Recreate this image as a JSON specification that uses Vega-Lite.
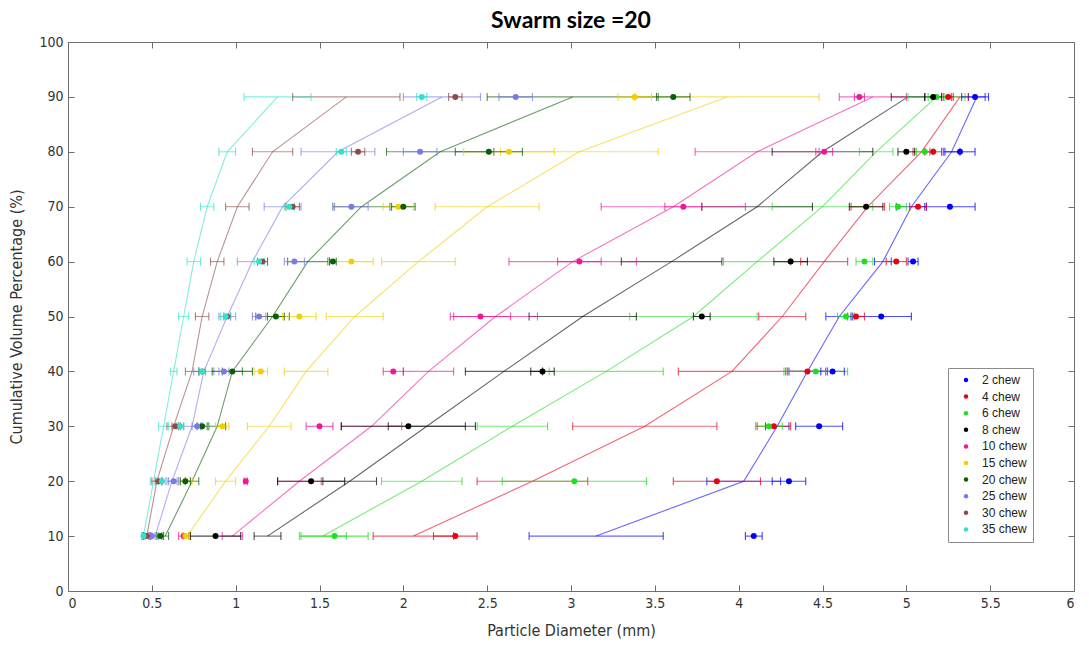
{
  "$schema": "https://vega.github.io/schema/vega-lite/v6.json",
  "autosize": {"type": "none"},
  "width": 1006,
  "height": 549,
  "padding": {"left": 68, "top": 42, "right": 15, "bottom": 56},
  "background": "white",
  "title": {
    "text": "Swarm size =20",
    "font": "Lato",
    "fontSize": 23,
    "fontWeight": "bold",
    "color": "#000000",
    "anchor": "middle",
    "offset": 2
  },
  "config": {
    "view": {"stroke": null},
    "axis": {
      "domainColor": "#6e6e6e",
      "tickColor": "#6e6e6e",
      "grid": false,
      "labelFont": "DejaVu Sans Condensed",
      "labelFontSize": 14,
      "labelColor": "#333333",
      "titleFont": "DejaVu Sans Condensed",
      "titleFontSize": 16,
      "titleFontWeight": "normal",
      "titleColor": "#333333",
      "tickSize": -6,
      "labelPadding": 11
    },
    "legend": {
      "orient": "none",
      "legendX": 880,
      "legendY": 326,
      "strokeColor": "#8c8c8c",
      "fillColor": "white",
      "padding": 6,
      "symbolType": "circle",
      "symbolSize": 20,
      "symbolStrokeWidth": 0,
      "symbolOpacity": 1,
      "labelFont": "Liberation Sans",
      "labelFontSize": 12,
      "labelColor": "#222222",
      "rowPadding": 4.6,
      "symbolOffset": 6,
      "labelOffset": 10
    }
  },
  "data": {
    "values": [
      {"s": "2 chew", "y": 10, "x": 3.15, "xlo": 2.75, "xhi": 3.55, "d": 4.09, "dlo": 4.04, "dhi": 4.14},
      {"s": "2 chew", "y": 20, "x": 4.03, "xlo": 3.81, "xhi": 4.25, "d": 4.30, "dlo": 4.20, "dhi": 4.40},
      {"s": "2 chew", "y": 30, "x": 4.23, "xlo": 4.16, "xhi": 4.30, "d": 4.48, "dlo": 4.34, "dhi": 4.62},
      {"s": "2 chew", "y": 40, "x": 4.41, "xlo": 4.30, "xhi": 4.52, "d": 4.56, "dlo": 4.49, "dhi": 4.63},
      {"s": "2 chew", "y": 50, "x": 4.60, "xlo": 4.52, "xhi": 4.68, "d": 4.85, "dlo": 4.67, "dhi": 5.03},
      {"s": "2 chew", "y": 60, "x": 4.86, "xlo": 4.81, "xhi": 4.91, "d": 5.04, "dlo": 5.01, "dhi": 5.07},
      {"s": "2 chew", "y": 70, "x": 5.03, "xlo": 4.94, "xhi": 5.12, "d": 5.26, "dlo": 5.11, "dhi": 5.41},
      {"s": "2 chew", "y": 80, "x": 5.27, "xlo": 5.22, "xhi": 5.32, "d": 5.32, "dlo": 5.23, "dhi": 5.41},
      {"s": "2 chew", "y": 90, "x": 5.42, "xlo": 5.37, "xhi": 5.47, "d": 5.41, "dlo": 5.33, "dhi": 5.49},

      {"s": "4 chew", "y": 10, "x": 2.06, "xlo": 1.82, "xhi": 2.30, "d": 2.31, "dlo": 2.18, "dhi": 2.44},
      {"s": "4 chew", "y": 20, "x": 2.77, "xlo": 2.44, "xhi": 3.10, "d": 3.87, "dlo": 3.61, "dhi": 4.13},
      {"s": "4 chew", "y": 30, "x": 3.44, "xlo": 3.01, "xhi": 3.87, "d": 4.21, "dlo": 4.11, "dhi": 4.31},
      {"s": "4 chew", "y": 40, "x": 3.96, "xlo": 3.64, "xhi": 4.28, "d": 4.41, "dlo": 4.29, "dhi": 4.53},
      {"s": "4 chew", "y": 50, "x": 4.26, "xlo": 4.12, "xhi": 4.40, "d": 4.70, "dlo": 4.65, "dhi": 4.75},
      {"s": "4 chew", "y": 60, "x": 4.51, "xlo": 4.37, "xhi": 4.65, "d": 4.94, "dlo": 4.88, "dhi": 5.00},
      {"s": "4 chew", "y": 70, "x": 4.77, "xlo": 4.67, "xhi": 4.87, "d": 5.07, "dlo": 5.02, "dhi": 5.12},
      {"s": "4 chew", "y": 80, "x": 5.09, "xlo": 5.04, "xhi": 5.14, "d": 5.16, "dlo": 5.11, "dhi": 5.21},
      {"s": "4 chew", "y": 90, "x": 5.32, "xlo": 5.27, "xhi": 5.37, "d": 5.25, "dlo": 5.22, "dhi": 5.28},

      {"s": "6 chew", "y": 10, "x": 1.52, "xlo": 1.38, "xhi": 1.66, "d": 1.59, "dlo": 1.39, "dhi": 1.79},
      {"s": "6 chew", "y": 20, "x": 2.11, "xlo": 1.87, "xhi": 2.35, "d": 3.02, "dlo": 2.59, "dhi": 3.45},
      {"s": "6 chew", "y": 30, "x": 2.65, "xlo": 2.44, "xhi": 2.86, "d": 4.18, "dlo": 4.10, "dhi": 4.26},
      {"s": "6 chew", "y": 40, "x": 3.21, "xlo": 2.87, "xhi": 3.55, "d": 4.46, "dlo": 4.27, "dhi": 4.65},
      {"s": "6 chew", "y": 50, "x": 3.73, "xlo": 3.35, "xhi": 4.11, "d": 4.64, "dlo": 4.59, "dhi": 4.69},
      {"s": "6 chew", "y": 60, "x": 4.11, "xlo": 3.91, "xhi": 4.31, "d": 4.75, "dlo": 4.70, "dhi": 4.80},
      {"s": "6 chew", "y": 70, "x": 4.50, "xlo": 4.20, "xhi": 4.80, "d": 4.95, "dlo": 4.90, "dhi": 5.00},
      {"s": "6 chew", "y": 80, "x": 4.82, "xlo": 4.72, "xhi": 4.92, "d": 5.11, "dlo": 5.06, "dhi": 5.16},
      {"s": "6 chew", "y": 90, "x": 5.18, "xlo": 5.01, "xhi": 5.35, "d": 5.18, "dlo": 5.13, "dhi": 5.23},

      {"s": "8 chew", "y": 10, "x": 1.19, "xlo": 1.11, "xhi": 1.27, "d": 0.88, "dlo": 0.73, "dhi": 1.03},
      {"s": "8 chew", "y": 20, "x": 1.68, "xlo": 1.52, "xhi": 1.84, "d": 1.45, "dlo": 1.25, "dhi": 1.65},
      {"s": "8 chew", "y": 30, "x": 2.14, "xlo": 1.91, "xhi": 2.37, "d": 2.03, "dlo": 1.63, "dhi": 2.43},
      {"s": "8 chew", "y": 40, "x": 2.60, "xlo": 2.37, "xhi": 2.83, "d": 2.83, "dlo": 2.76, "dhi": 2.90},
      {"s": "8 chew", "y": 50, "x": 3.07, "xlo": 2.75, "xhi": 3.39, "d": 3.78, "dlo": 3.73, "dhi": 3.83},
      {"s": "8 chew", "y": 60, "x": 3.60, "xlo": 3.30, "xhi": 3.90, "d": 4.31, "dlo": 4.21, "dhi": 4.41},
      {"s": "8 chew", "y": 70, "x": 4.11, "xlo": 3.78, "xhi": 4.44, "d": 4.76, "dlo": 4.66, "dhi": 4.86},
      {"s": "8 chew", "y": 80, "x": 4.50, "xlo": 4.20, "xhi": 4.80, "d": 5.00, "dlo": 4.95, "dhi": 5.05},
      {"s": "8 chew", "y": 90, "x": 5.01, "xlo": 4.91, "xhi": 5.11, "d": 5.16, "dlo": 5.11, "dhi": 5.21},

      {"s": "10 chew", "y": 10, "x": 0.98, "xlo": 0.92, "xhi": 1.04, "d": 0.69, "dlo": 0.66, "dhi": 0.72},
      {"s": "10 chew", "y": 20, "x": 1.38, "xlo": 1.25, "xhi": 1.51, "d": 1.06, "dlo": 1.05, "dhi": 1.07},
      {"s": "10 chew", "y": 30, "x": 1.81, "xlo": 1.63, "xhi": 1.99, "d": 1.50, "dlo": 1.42, "dhi": 1.58},
      {"s": "10 chew", "y": 40, "x": 2.15, "xlo": 2.00, "xhi": 2.30, "d": 1.94, "dlo": 1.88, "dhi": 2.00},
      {"s": "10 chew", "y": 50, "x": 2.55, "xlo": 2.30, "xhi": 2.80, "d": 2.46, "dlo": 2.28, "dhi": 2.64},
      {"s": "10 chew", "y": 60, "x": 3.01, "xlo": 2.63, "xhi": 3.39, "d": 3.05, "dlo": 2.92, "dhi": 3.18},
      {"s": "10 chew", "y": 70, "x": 3.61, "xlo": 3.18, "xhi": 4.04, "d": 3.67, "dlo": 3.56, "dhi": 3.78},
      {"s": "10 chew", "y": 80, "x": 4.11, "xlo": 3.74, "xhi": 4.48, "d": 4.51, "dlo": 4.46, "dhi": 4.56},
      {"s": "10 chew", "y": 90, "x": 4.80, "xlo": 4.60, "xhi": 5.00, "d": 4.72, "dlo": 4.69, "dhi": 4.75},

      {"s": "15 chew", "y": 10, "x": 0.71, "xlo": 0.69, "xhi": 0.73, "d": 0.70, "dlo": 0.68, "dhi": 0.72},
      {"s": "15 chew", "y": 20, "x": 0.94, "xlo": 0.88, "xhi": 1.00, "d": 0.70, "dlo": 0.66, "dhi": 0.74},
      {"s": "15 chew", "y": 30, "x": 1.20, "xlo": 1.07, "xhi": 1.33, "d": 0.92, "dlo": 0.88, "dhi": 0.96},
      {"s": "15 chew", "y": 40, "x": 1.42, "xlo": 1.29, "xhi": 1.55, "d": 1.15, "dlo": 1.11, "dhi": 1.19},
      {"s": "15 chew", "y": 50, "x": 1.71, "xlo": 1.54, "xhi": 1.88, "d": 1.38, "dlo": 1.28, "dhi": 1.48},
      {"s": "15 chew", "y": 60, "x": 2.09, "xlo": 1.87, "xhi": 2.31, "d": 1.69, "dlo": 1.56, "dhi": 1.82},
      {"s": "15 chew", "y": 70, "x": 2.50, "xlo": 2.19, "xhi": 2.81, "d": 1.97, "dlo": 1.88, "dhi": 2.06},
      {"s": "15 chew", "y": 80, "x": 3.05, "xlo": 2.58, "xhi": 3.52, "d": 2.63, "dlo": 2.36, "dhi": 2.90},
      {"s": "15 chew", "y": 90, "x": 3.93, "xlo": 3.38, "xhi": 4.48, "d": 3.38, "dlo": 3.28, "dhi": 3.48},

      {"s": "20 chew", "y": 10, "x": 0.58, "xlo": 0.56, "xhi": 0.60, "d": 0.55, "dlo": 0.53, "dhi": 0.57},
      {"s": "20 chew", "y": 20, "x": 0.74, "xlo": 0.70, "xhi": 0.78, "d": 0.70, "dlo": 0.67, "dhi": 0.73},
      {"s": "20 chew", "y": 30, "x": 0.89, "xlo": 0.84, "xhi": 0.94, "d": 0.80, "dlo": 0.77, "dhi": 0.83},
      {"s": "20 chew", "y": 40, "x": 0.98, "xlo": 0.92, "xhi": 1.04, "d": 0.98, "dlo": 0.86, "dhi": 1.10},
      {"s": "20 chew", "y": 50, "x": 1.22, "xlo": 1.12, "xhi": 1.32, "d": 1.24, "dlo": 1.19, "dhi": 1.29},
      {"s": "20 chew", "y": 60, "x": 1.43, "xlo": 1.31, "xhi": 1.55, "d": 1.58, "dlo": 1.56, "dhi": 1.60},
      {"s": "20 chew", "y": 70, "x": 1.75, "xlo": 1.58, "xhi": 1.92, "d": 2.00, "dlo": 1.93, "dhi": 2.07},
      {"s": "20 chew", "y": 80, "x": 2.22, "xlo": 1.90, "xhi": 2.54, "d": 2.51, "dlo": 2.31, "dhi": 2.71},
      {"s": "20 chew", "y": 90, "x": 3.01, "xlo": 2.50, "xhi": 3.52, "d": 3.61, "dlo": 3.51, "dhi": 3.71},

      {"s": "25 chew", "y": 10, "x": 0.52, "xlo": 0.50, "xhi": 0.54, "d": 0.50, "dlo": 0.48, "dhi": 0.52},
      {"s": "25 chew", "y": 20, "x": 0.62, "xlo": 0.59, "xhi": 0.65, "d": 0.63, "dlo": 0.60, "dhi": 0.66},
      {"s": "25 chew", "y": 30, "x": 0.74, "xlo": 0.69, "xhi": 0.79, "d": 0.77, "dlo": 0.74, "dhi": 0.80},
      {"s": "25 chew", "y": 40, "x": 0.81, "xlo": 0.75, "xhi": 0.87, "d": 0.93, "dlo": 0.90, "dhi": 0.96},
      {"s": "25 chew", "y": 50, "x": 0.95, "xlo": 0.90, "xhi": 1.00, "d": 1.14, "dlo": 1.10, "dhi": 1.18},
      {"s": "25 chew", "y": 60, "x": 1.10, "xlo": 1.01, "xhi": 1.19, "d": 1.35, "dlo": 1.29, "dhi": 1.41},
      {"s": "25 chew", "y": 70, "x": 1.28, "xlo": 1.17, "xhi": 1.39, "d": 1.69, "dlo": 1.59, "dhi": 1.79},
      {"s": "25 chew", "y": 80, "x": 1.61, "xlo": 1.39, "xhi": 1.83, "d": 2.10, "dlo": 2.00, "dhi": 2.20},
      {"s": "25 chew", "y": 90, "x": 2.23, "xlo": 2.00, "xhi": 2.46, "d": 2.67, "dlo": 2.57, "dhi": 2.77},

      {"s": "30 chew", "y": 10, "x": 0.47, "xlo": 0.45, "xhi": 0.49, "d": 0.47, "dlo": 0.45, "dhi": 0.49},
      {"s": "30 chew", "y": 20, "x": 0.53, "xlo": 0.50, "xhi": 0.56, "d": 0.54, "dlo": 0.52, "dhi": 0.56},
      {"s": "30 chew", "y": 30, "x": 0.63, "xlo": 0.59, "xhi": 0.67, "d": 0.64, "dlo": 0.62, "dhi": 0.66},
      {"s": "30 chew", "y": 40, "x": 0.74, "xlo": 0.70, "xhi": 0.78, "d": 0.80, "dlo": 0.78, "dhi": 0.82},
      {"s": "30 chew", "y": 50, "x": 0.80, "xlo": 0.76, "xhi": 0.84, "d": 0.95, "dlo": 0.93, "dhi": 0.97},
      {"s": "30 chew", "y": 60, "x": 0.89, "xlo": 0.85, "xhi": 0.93, "d": 1.16, "dlo": 1.13, "dhi": 1.19},
      {"s": "30 chew", "y": 70, "x": 1.01, "xlo": 0.94, "xhi": 1.08, "d": 1.34, "dlo": 1.30, "dhi": 1.38},
      {"s": "30 chew", "y": 80, "x": 1.22, "xlo": 1.10, "xhi": 1.34, "d": 1.73, "dlo": 1.69, "dhi": 1.77},
      {"s": "30 chew", "y": 90, "x": 1.66, "xlo": 1.34, "xhi": 1.98, "d": 2.31, "dlo": 2.27, "dhi": 2.35},

      {"s": "35 chew", "y": 10, "x": 0.45, "xlo": 0.44, "xhi": 0.46, "d": 0.45, "dlo": 0.44, "dhi": 0.46},
      {"s": "35 chew", "y": 20, "x": 0.51, "xlo": 0.49, "xhi": 0.53, "d": 0.56, "dlo": 0.54, "dhi": 0.58},
      {"s": "35 chew", "y": 30, "x": 0.57, "xlo": 0.54, "xhi": 0.60, "d": 0.67, "dlo": 0.65, "dhi": 0.69},
      {"s": "35 chew", "y": 40, "x": 0.63, "xlo": 0.61, "xhi": 0.65, "d": 0.80, "dlo": 0.78, "dhi": 0.82},
      {"s": "35 chew", "y": 50, "x": 0.69, "xlo": 0.66, "xhi": 0.72, "d": 0.94, "dlo": 0.91, "dhi": 0.97},
      {"s": "35 chew", "y": 60, "x": 0.75, "xlo": 0.71, "xhi": 0.79, "d": 1.14, "dlo": 1.11, "dhi": 1.17},
      {"s": "35 chew", "y": 70, "x": 0.83, "xlo": 0.79, "xhi": 0.87, "d": 1.32, "dlo": 1.29, "dhi": 1.35},
      {"s": "35 chew", "y": 80, "x": 0.95, "xlo": 0.90, "xhi": 1.00, "d": 1.63, "dlo": 1.60, "dhi": 1.66},
      {"s": "35 chew", "y": 90, "x": 1.25, "xlo": 1.05, "xhi": 1.45, "d": 2.11, "dlo": 2.08, "dhi": 2.14}
    ]
  },
  "resolve": {"axis": {"x": "independent", "y": "independent"}},
  "layer": [
    {
      "mark": {"type": "line", "strokeWidth": 1.1, "opacity": 0.6},
      "encoding": {
        "x": {
          "field": "x", "type": "quantitative",
          "scale": {"domain": [0, 6], "nice": false, "zero": false},
          "axis": {
            "orient": "bottom",
            "values": [0, 0.5, 1, 1.5, 2, 2.5, 3, 3.5, 4, 4.5, 5, 5.5, 6],
            "labelExpr": "datum.value + ''",
            "title": "Particle Diameter (mm)",
            "titlePadding": 12
          }
        },
        "y": {
          "field": "y", "type": "quantitative",
          "scale": {"domain": [0, 100], "nice": false},
          "axis": {
            "orient": "left",
            "values": [0, 10, 20, 30, 40, 50, 60, 70, 80, 90, 100],
            "title": "Cumulative Volume Percentage (%)",
            "titlePadding": 14
          }
        },
        "color": {
          "field": "s", "type": "nominal",
          "scale": {
            "domain": ["2 chew", "4 chew", "6 chew", "8 chew", "10 chew", "15 chew", "20 chew", "25 chew", "30 chew", "35 chew"],
            "range": ["#0000FF", "#E6001A", "#1EE01E", "#000000", "#F0169B", "#F2CF00", "#0B5C0B", "#7A7AE6", "#8E4A4A", "#2EE3C9"]
          }
        },
        "order": {"field": "y", "type": "quantitative"}
      }
    },
    {
      "mark": {"type": "rule", "strokeWidth": 1.1, "opacity": 0.6},
      "encoding": {
        "x": {"field": "xlo", "type": "quantitative", "axis": null},
        "x2": {"field": "xhi"},
        "y": {"field": "y", "type": "quantitative", "axis": null},
        "color": {"field": "s", "type": "nominal"}
      }
    },
    {
      "transform": [{"fold": ["xlo", "xhi"], "as": ["end", "v"]}],
      "mark": {"type": "tick", "orient": "vertical", "size": 8, "thickness": 1.1, "opacity": 0.7},
      "encoding": {
        "x": {"field": "v", "type": "quantitative", "axis": null},
        "y": {"field": "y", "type": "quantitative", "axis": null},
        "color": {"field": "s", "type": "nominal"}
      }
    },
    {
      "mark": {"type": "rule", "strokeWidth": 1.1, "opacity": 0.7},
      "encoding": {
        "x": {"field": "dlo", "type": "quantitative", "axis": null},
        "x2": {"field": "dhi"},
        "y": {"field": "y", "type": "quantitative", "axis": null},
        "color": {"field": "s", "type": "nominal"}
      }
    },
    {
      "transform": [{"fold": ["dlo", "dhi"], "as": ["end", "v"]}],
      "mark": {"type": "tick", "orient": "vertical", "size": 8, "thickness": 1.1, "opacity": 0.75},
      "encoding": {
        "x": {"field": "v", "type": "quantitative", "axis": null},
        "y": {"field": "y", "type": "quantitative", "axis": null},
        "color": {"field": "s", "type": "nominal"}
      }
    },
    {
      "mark": {"type": "point", "filled": true, "size": 36, "opacity": 1},
      "encoding": {
        "x": {
          "field": "d", "type": "quantitative",
          "axis": {
            "orient": "top",
            "values": [0, 0.5, 1, 1.5, 2, 2.5, 3, 3.5, 4, 4.5, 5, 5.5, 6],
            "labels": false,
            "title": null
          }
        },
        "y": {
          "field": "y", "type": "quantitative",
          "axis": {
            "orient": "right",
            "values": [0, 10, 20, 30, 40, 50, 60, 70, 80, 90, 100],
            "labels": false,
            "title": null
          }
        },
        "color": {"field": "s", "type": "nominal", "legend": {"title": null}}
      }
    }
  ]
}
